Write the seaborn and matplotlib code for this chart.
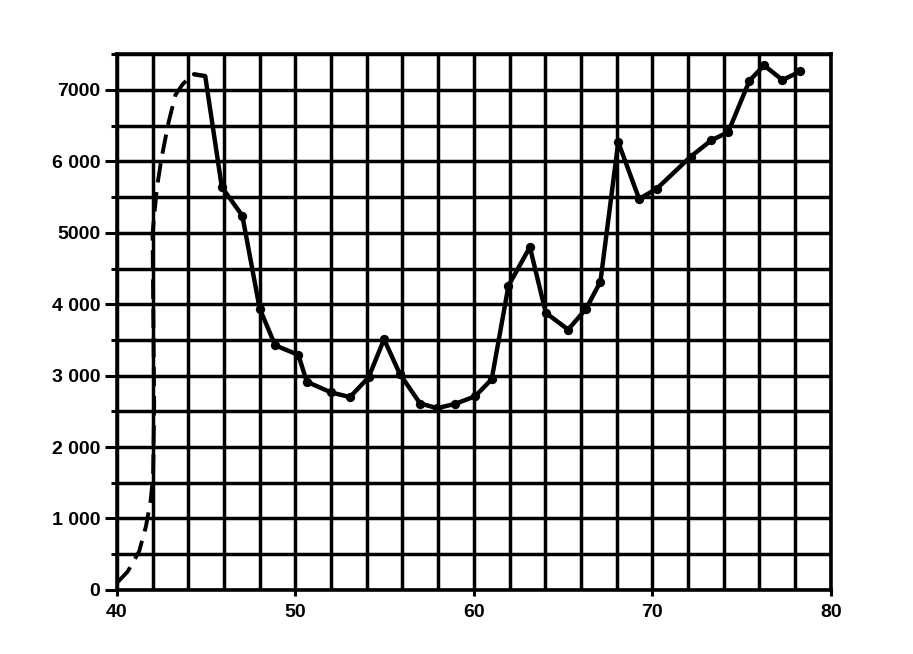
import matplotlib
matplotlib.use("Agg")
import matplotlib.pyplot as plt
import seaborn as sns
import pandas as pd
import numpy as np

# Early (estimated) part of the curve, drawn dashed
dashed_x = [40.05, 40.6, 41.25, 41.63, 41.89, 42.03, 42.09, 42.0, 42.24, 42.5, 42.9, 43.28, 43.67, 44.06, 44.33]
dashed_y = [110, 255, 540, 890, 1245, 1595, 2580, 4990, 5625, 6045, 6550, 6930, 7075, 7175, 7220]

# Measured part of the curve, drawn solid with dots
solid_x = [44.33, 44.95, 45.88, 47.03, 48.0, 48.87, 50.17, 50.64, 52.0, 53.06, 54.1, 54.97,
           55.85, 56.99, 57.95, 58.95, 60.07, 61.0, 61.94, 63.14, 64.03, 65.28, 66.27, 67.09,
           68.09, 69.26, 70.26, 72.14, 73.3, 74.25, 75.44, 76.26, 77.29, 78.29]
solid_y = [7220, 7195, 5640, 5240, 3940, 3425, 3290, 2915, 2765, 2700, 2975, 3510,
           3025, 2610, 2545, 2605, 2710, 2950, 4260, 4800, 3880, 3645, 3930, 4315,
           6270, 5475, 5620, 6065, 6295, 6410, 7130, 7345, 7140, 7260]

x_ticks = [40, 50, 60, 70, 80]
x_tick_labels = ["40", "50", "60", "70", "80"]
y_ticks = [0, 1000, 2000, 3000, 4000, 5000, 6000, 7000]
y_tick_labels = ["0", "1 000", "2 000", "3 000", "4 000", "5000", "6 000", "7000"]

sns.set_style("white")
plt.rcParams['font.family'] = ['Liberation Sans', 'DejaVu Sans']
plt.rcParams['text.color'] = 'black'
plt.rcParams['xtick.color'] = 'black'
plt.rcParams['ytick.color'] = 'black'

fig = plt.figure(figsize=(9.13, 6.54), dpi=100)
ax = fig.add_axes([0.128, 0.098, 0.782, 0.819])

df_dash = pd.DataFrame({"x": dashed_x, "y": dashed_y})
df_solid = pd.DataFrame({"x": solid_x, "y": solid_y})

sns.lineplot(data=df_dash, x="x", y="y", ax=ax, color="black", linewidth=2.8,
             linestyle=(0, (5, 2.5)), sort=False, zorder=5)
sns.lineplot(data=df_solid, x="x", y="y", ax=ax, color="black", linewidth=3.2,
             sort=False, zorder=5)
sns.scatterplot(data=df_solid.iloc[2:], x="x", y="y", ax=ax, color="black", s=45,
                edgecolor="black", linewidth=0, zorder=6)

ax.set_xlim(40, 80)
ax.set_ylim(0, 7500)

ax.set_xticks(x_ticks)
ax.set_xticklabels(x_tick_labels, fontsize=14, fontweight="bold", color="black")
ax.set_yticks(y_ticks)
ax.set_yticklabels(y_tick_labels, fontsize=14, fontweight="bold", color="black")
ax.set_xticks(np.arange(40, 81, 2), minor=True)
ax.set_yticks(np.arange(0, 7501, 500), minor=True)

ax.tick_params(axis="y", which="major", direction="out", length=9, width=2.2, left=True, pad=3)
ax.tick_params(axis="y", which="minor", direction="out", length=4, width=2.2, left=True)
ax.tick_params(axis="x", which="major", direction="out", length=4, width=2.2, bottom=True, pad=6)
ax.tick_params(axis="x", which="minor", length=0)

ax.grid(which="both", color="black", linewidth=2.5)
ax.set_axisbelow(True)
for s in ax.spines.values():
    s.set_color("black")
    s.set_linewidth(2.6)

ax.set_xlabel("")
ax.set_ylabel("")

fig.savefig("out.png", dpi=100, facecolor="white")
